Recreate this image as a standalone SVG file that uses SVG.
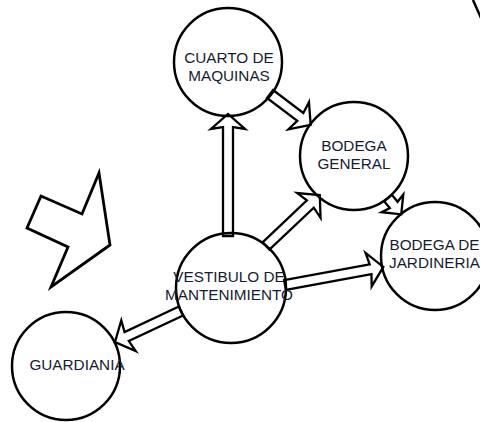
<svg xmlns="http://www.w3.org/2000/svg" width="480" height="422" viewBox="0 0 480 422">
<style>
.c{fill:none;stroke:#000;stroke-width:2.5}
.a{fill:#fff;stroke:#000;stroke-width:2.3;stroke-linejoin:miter}
.t{font-family:"Liberation Sans",Arial,sans-serif;font-size:15.3px;fill:#141c33;text-anchor:middle}
</style>
<rect width="480" height="422" fill="#fff"/>
<g id="connectors">
<polygon class="a" transform="translate(228,236) rotate(-90)" points="0,-5 109,-5 107,-17 122,0 107,17 109,5 0,5"/>
<polygon class="a" transform="translate(270,94) rotate(37.1)" points="0,-5 38,-5 36,-17 51,0 36,17 38,5 0,5"/>
<polygon class="a" transform="translate(266,246) rotate(-43.4)" points="0,-5 61,-5 59,-17 74,0 59,17 61,5 0,5"/>
<polygon class="a" transform="translate(388,198) rotate(50.9)" points="0,-5 9,-5 7,-14 21,0 7,14 9,5 0,5"/>
<polygon class="a" transform="translate(285,285) rotate(-10.4)" points="0,-5 87,-5 85,-17 100,0 85,17 87,5 0,5"/>
<polygon class="a" transform="translate(181,311) rotate(154.8)" points="0,-5 60,-5 58,-17 73,0 58,17 60,5 0,5"/>
</g>
<g id="cuarto">
<circle class="c" cx="228" cy="62" r="54"/>
<text class="t" x="229" y="63">CUARTO DE</text><text class="t" x="229" y="81">MAQUINAS</text>
</g>
<g id="bodega-general">
<circle class="c" cx="354" cy="156" r="54"/>
<text class="t" x="354" y="151">BODEGA</text><text class="t" x="354" y="169">GENERAL</text>
</g>
<g id="bodega-jardineria">
<circle class="c" cx="435" cy="256" r="54"/>
<text class="t" x="434.5" y="250">BODEGA DE</text><text class="t" x="434.5" y="268">JARDINERIA</text>
</g>
<g id="vestibulo">
<circle class="c" cx="231" cy="288" r="55"/>
<text class="t" x="229" y="282">VESTIBULO DE</text><text class="t" x="229" y="300">MANTENIMIENTO</text>
</g>
<g id="guardiania">
<circle class="c" cx="66" cy="366" r="54"/>
<text class="t" x="77" y="370">GUARDIANIA</text>
</g>
<g id="shape">
<polygon fill="none" stroke="#000" stroke-width="2.8" stroke-linejoin="miter" points="99,173 110,245 51,287 68,247 27,228 41,196 82,214"/>
</g>
<g id="partial">
<path d="M473,0 Q477,9 481,18" fill="none" stroke="#000" stroke-width="2.5"/>
</g>
</svg>
